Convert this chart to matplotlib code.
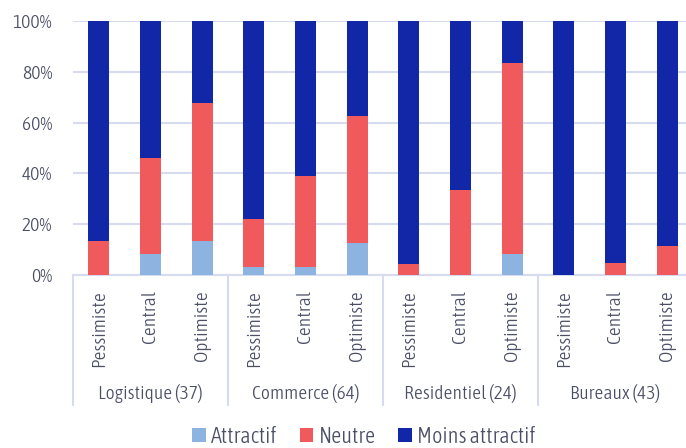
import numpy as np
import matplotlib.pyplot as plt
from matplotlib.transforms import blended_transform_factory

plt.rcParams['font.family'] = ['Asap Condensed', 'DejaVu Sans']
plt.rcParams['font.weight'] = 300

# secteurs (nombre de répondants) et scénarios
secteurs = ['Logistique (37)', 'Commerce (64)', 'Residentiel (24)', 'Bureaux (43)']
scenarios = ['Pessimiste', 'Central', 'Optimiste']

# parts en %, un bloc de trois scénarios par secteur
attractif = [0.0, 8.1, 13.5,
             3.1, 3.1, 12.5,
             0.0, 0.0, 8.3,
             0.0, 0.0, 0.0]
neutre = [13.5, 37.8, 54.1,
          18.8, 35.9, 50.0,
          4.2, 33.3, 75.0,
          0.0, 4.7, 11.6]
moins_attractif = [100 - a - n for a, n in zip(attractif, neutre)]

c_attr = '#8DB4E0'
c_neutre = '#F05A5C'
c_moins = '#1226A8'
c_grid = '#D6DBF0'
c_txt = '#4A4E66'

fig = plt.figure(figsize=(6.86, 4.48), dpi=100)
ax = fig.add_axes([73 / 686, 173 / 448, 620 / 686, 254 / 448])

x = np.arange(len(attractif))
w = 0.41
attr = np.array(attractif)
neu = np.array(neutre)
ax.bar(x, attr, w, color=c_attr, label='Attractif', zorder=3)
ax.bar(x, neu, w, bottom=attr, color=c_neutre, label='Neutre', zorder=3)
ax.bar(x, moins_attractif, w, bottom=attr + neu, color=c_moins,
       label='Moins attractif', zorder=3)

ax.set_xlim(-0.5, len(x) - 0.5)
ax.set_ylim(0, 100)
ax.set_yticks(range(0, 101, 20))
ax.set_yticklabels([f'{v}%' for v in range(0, 101, 20)])
ax.yaxis.grid(True, color=c_grid, linewidth=1.5, zorder=0)
ax.tick_params(axis='y', length=0, pad=15, labelsize=14, labelcolor=c_txt)

for s in ['left', 'right', 'top']:
    ax.spines[s].set_visible(False)
ax.spines['bottom'].set_color(c_grid)
ax.spines['bottom'].set_linewidth(1.5)

ax.set_xticks(x)
ax.set_xticklabels(scenarios * len(secteurs), rotation=90, va='top')
ax.tick_params(axis='x', length=0, pad=11, labelsize=14, labelcolor=c_txt)

# séparateurs et noms des secteurs sous l'axe
tr = blended_transform_factory(ax.transData, ax.transAxes)
for i in range(len(secteurs) + 1):
    ax.plot([i * 3 - 0.5, i * 3 - 0.5], [0, -0.51], transform=tr,
            color=c_grid, linewidth=1.5, clip_on=False)
for i, nom in enumerate(secteurs):
    ax.text(i * 3 + 1, -0.465, nom, transform=tr, ha='center', va='center',
            fontsize=14, color=c_txt)

fig.legend(loc='center', bbox_to_anchor=(364 / 686, 11 / 448), ncol=3, frameon=False,
           fontsize=16, handlelength=0.6, handleheight=0.6,
           handletextpad=0.25, columnspacing=1.0, labelcolor=c_txt)

fig.savefig('out.png', dpi=100)
